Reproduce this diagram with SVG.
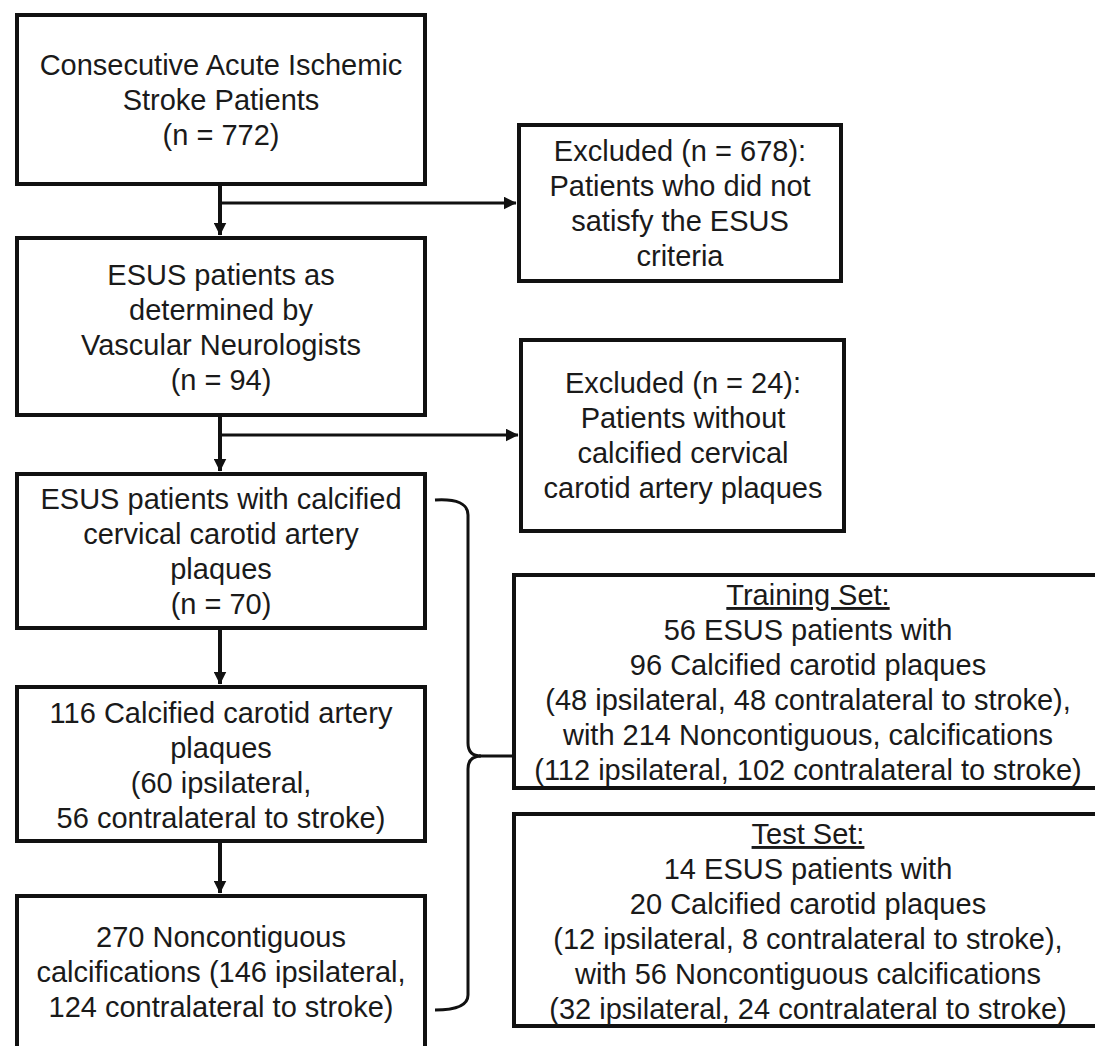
<svg xmlns="http://www.w3.org/2000/svg" width="1095" height="1046" viewBox="0 0 1095 1046">
<style>
.box{fill:#fff;stroke:#111;stroke-width:4}
.t{font-family:"Liberation Sans",Arial,sans-serif;font-size:29px;fill:#1a1a1a;text-anchor:middle}
.c{fill:none;stroke:#111;stroke-width:3}
.v{fill:none;stroke:#111;stroke-width:4}
.u{text-decoration:underline}
</style>
<defs>
<marker id="ah" markerWidth="13" markerHeight="13" viewBox="0 0 12 12" refX="11.5" refY="6" orient="auto" markerUnits="userSpaceOnUse">
<path d="M0,0 L12,6 L0,12 Z" fill="#111"/>
</marker>
</defs>
<rect width="1095" height="1046" fill="#fff"/>
<g id="connectors">
<path class="v" d="M220,186 L220,235" marker-end="url(#ah)"/>
<path class="c" d="M220,203 L516,203" marker-end="url(#ah)"/>
<path class="v" d="M220,417 L220,471" marker-end="url(#ah)"/>
<path class="c" d="M220,435 L518,435" marker-end="url(#ah)"/>
<path class="v" d="M220,630 L220,684" marker-end="url(#ah)"/>
<path class="v" d="M220,843 L220,893" marker-end="url(#ah)"/>
<path class="c" d="M435,500 Q468,498 468,515 L468,743 Q468,756 481,756 Q468,756 468,769 L468,995 Q468,1010 435,1010"/>
<path class="c" d="M479,756 L520,756"/>
</g>
<g id="n1">
<rect class="box" x="17" y="15" width="408" height="169"/>
<text class="t" x="221" y="75">Consecutive Acute Ischemic</text>
<text class="t" x="221" y="110">Stroke Patients</text>
<text class="t" x="221" y="145">(n = 772)</text>
</g>
<g id="n2">
<rect class="box" x="17" y="238" width="408" height="177"/>
<text class="t" x="221" y="285">ESUS patients as</text>
<text class="t" x="221" y="320">determined by</text>
<text class="t" x="221" y="355">Vascular Neurologists</text>
<text class="t" x="221" y="390">(n = 94)</text>
</g>
<g id="n3">
<rect class="box" x="17" y="474" width="408" height="154"/>
<text class="t" x="221" y="509">ESUS patients with calcified</text>
<text class="t" x="221" y="544">cervical carotid artery</text>
<text class="t" x="221" y="579">plaques</text>
<text class="t" x="221" y="614">(n = 70)</text>
</g>
<g id="n4">
<rect class="box" x="17" y="687" width="408" height="154"/>
<text class="t" x="221" y="723">116 Calcified carotid artery</text>
<text class="t" x="221" y="758">plaques</text>
<text class="t" x="221" y="793">(60 ipsilateral,</text>
<text class="t" x="221" y="828">56 contralateral to stroke)</text>
</g>
<g id="n5">
<rect class="box" x="17" y="896" width="408" height="200"/>
<text class="t" x="221" y="947">270 Noncontiguous</text>
<text class="t" x="221" y="982">calcifications (146 ipsilateral,</text>
<text class="t" x="221" y="1017">124 contralateral to stroke)</text>
</g>
<g id="ex1">
<rect class="box" x="519" y="125" width="322" height="156"/>
<text class="t" x="680" y="161">Excluded (n = 678):</text>
<text class="t" x="680" y="196">Patients who did not</text>
<text class="t" x="680" y="231">satisfy the ESUS</text>
<text class="t" x="680" y="266">criteria</text>
</g>
<g id="ex2">
<rect class="box" x="521" y="340" width="323" height="191"/>
<text class="t" x="683" y="393">Excluded (n = 24):</text>
<text class="t" x="683" y="428">Patients without</text>
<text class="t" x="683" y="463">calcified cervical</text>
<text class="t" x="683" y="498">carotid artery plaques</text>
</g>
<g id="train">
<rect class="box" x="514" y="575" width="592" height="213"/>
<text class="t" x="808" y="605"><tspan class="u">Training Set:</tspan></text>
<text class="t" x="808" y="640">56 ESUS patients with</text>
<text class="t" x="808" y="675">96 Calcified carotid plaques</text>
<text class="t" x="808" y="710">(48 ipsilateral, 48 contralateral to stroke),</text>
<text class="t" x="808" y="745">with 214 Noncontiguous, calcifications</text>
<text class="t" x="808" y="780">(112 ipsilateral, 102 contralateral to stroke)</text>
</g>
<g id="test">
<rect class="box" x="514" y="814" width="592" height="212"/>
<text class="t" x="808" y="844"><tspan class="u">Test Set:</tspan></text>
<text class="t" x="808" y="879">14 ESUS patients with</text>
<text class="t" x="808" y="914">20 Calcified carotid plaques</text>
<text class="t" x="808" y="949">(12 ipsilateral, 8 contralateral to stroke),</text>
<text class="t" x="808" y="984">with 56 Noncontiguous calcifications</text>
<text class="t" x="808" y="1019">(32 ipsilateral, 24 contralateral to stroke)</text>
</g>
</svg>
